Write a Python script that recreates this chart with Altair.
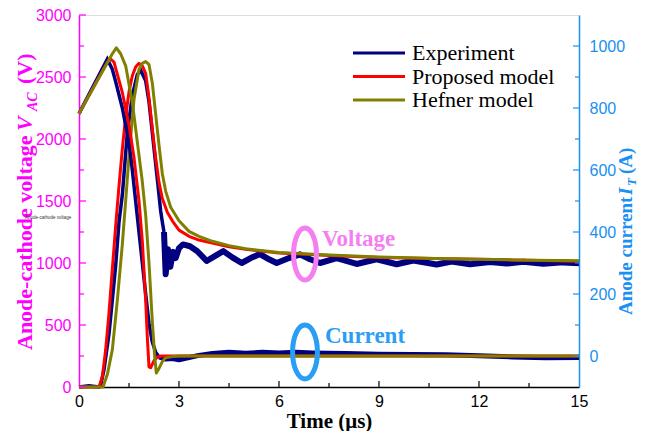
import altair as alt
import pandas as pd

# ---------------- data ----------------
series = ["Experiment", "Proposed model", "Hefner model"]
colors = ["#000080", "#ff0000", "#808000"]

# anode-cathode voltage (V)
exp_v_t1 = [0, 0.3, 0.6, 0.65, 0.75, 0.9, 1.0, 1.1, 1.2, 1.3, 1.45, 1.6, 1.75, 1.85, 2.0, 2.1, 2.2, 2.3, 2.4, 2.45, 2.5, 2.55]
exp_v_v1 = [0, 10, 0, 15, 140, 430, 700, 980, 1330, 1550, 2050, 2350, 2520, 2555, 2470, 2300, 2050, 1800, 1550, 1420, 1330, 1250]
exp_v_t2 = [2.55, 2.6, 2.67, 2.74, 2.82, 2.9, 3.0, 3.12, 3.33, 3.55, 3.83, 4.1, 4.33, 4.6, 4.88, 5.15, 5.43, 5.7, 5.93, 6.3,
            6.63, 6.93, 7.23, 7.73, 8.33, 8.93, 9.53, 10.03, 10.73, 11.18, 11.73, 12.33, 12.83, 13.33, 13.93, 14.53, 15.0]
exp_v_v2 = [1250, 910, 1110, 970, 1090, 1040, 1120, 1150, 1135, 1095, 1016, 1060, 1096, 1045, 1000, 1040, 1072, 1030, 1000, 1040,
            1070, 1030, 1000, 1040, 992, 1030, 990, 1020, 988, 1012, 990, 1008, 995, 1010, 993, 1005, 998]

prop_v_t = [0, 0.6, 0.7, 0.8, 0.9, 1.0, 1.1, 1.2, 1.3, 1.4, 1.5, 1.6, 1.7, 1.8, 1.9, 2.0, 2.1, 2.2, 2.3, 2.4, 2.5, 2.65,
            2.8, 3.0, 3.3, 3.6, 4.0, 4.5, 5.0, 6.0, 7.5, 9.0, 11.0, 13.0, 15.0]
prop_v_v = [0, 0, 80, 300, 600, 950, 1300, 1620, 1920, 2180, 2380, 2510, 2580, 2610, 2590, 2530, 2330, 2080, 1850, 1650, 1520, 1410,
            1340, 1265, 1215, 1185, 1160, 1130, 1110, 1080, 1060, 1045, 1035, 1025, 1015]

hef_v_t = [0, 0.72, 0.85, 1.0, 1.15, 1.3, 1.4, 1.5, 1.65, 1.8, 1.9, 2.0, 2.1, 2.2, 2.3, 2.4, 2.5, 2.6, 2.75, 3.0, 3.3, 3.6,
           4.0, 4.5, 5.0, 6.0, 7.5, 9.0, 11.0, 13.0, 15.0]
hef_v_v = [0, 0, 100, 300, 700, 1150, 1500, 1860, 2320, 2560, 2610, 2625, 2600, 2450, 2200, 1950, 1720, 1580, 1450, 1340, 1255, 1215,
           1175, 1140, 1115, 1085, 1065, 1048, 1035, 1025, 1018]

# anode current (A)
exp_i_t1 = [0, 0.85, 1.0, 1.1, 1.3, 1.5, 1.6, 1.7, 1.8, 1.9, 2.0, 2.1, 2.2, 2.3, 2.4]
exp_i_v1 = [782, 958, 925, 885, 800, 690, 600, 500, 400, 300, 200, 105, 45, 12, -3]
exp_i_t2 = [2.4, 2.6, 2.8, 3.0, 3.3, 3.6, 4.0, 4.5, 5.0, 5.5, 6.0, 6.5, 7.0, 7.5, 8.0, 9.0, 10.0, 11.0, 12.0, 13.0, 14.0, 15.0]
exp_i_v2 = [-3, -10, -8, -12, -5, 2, 8, 12, 9, 12, 10, 12, 10, 9, 8, 6, 5, 4, 1, -3, -6, -5]

prop_i_t = [0, 0.85, 0.95, 1.05, 1.3, 1.5, 1.65, 1.8, 1.9, 2.0, 2.05, 2.1, 2.15, 2.25, 2.35, 2.5, 15]
prop_i_v = [782, 948, 958, 948, 850, 745, 640, 500, 370, 180, 60, -35, -38, -15, -3, 0, 0]

hef_i_t = [0, 1.0, 1.12, 1.25, 1.4, 1.6, 1.75, 1.9, 2.0, 2.1, 2.2, 2.27, 2.32, 2.4, 2.5, 2.6, 2.8, 3.0, 15]
hef_i_v = [782, 975, 994, 975, 936, 818, 690, 562, 455, 300, 110, 0, -55, -40, -18, -6, -2, 0, 0]

x_major = [0, 3, 6, 9, 12, 15]
x_minor = [1.5, 4.5, 7.5, 10.5, 13.5]
v_major = [0, 500, 1000, 1500, 2000, 2500, 3000]
v_minor = [250, 750, 1250, 1750, 2250, 2750]
i_major = [0, 200, 400, 600, 800, 1000]
i_minor = [100, 300, 500, 700, 900]

ann_t = 6.78
ann_v = 1072
ann_i = 13

# ---------------- styling ----------------
W, H = 500, 372
MAG = "#ff00ff"
BLUE = "#1a90f0"
PINK = "#f57ef0"
CBLUE = "#2a9df4"
SERIF = "Liberation Serif"
SANS = "Liberation Sans"

xs = alt.Scale(domain=[0, 15], nice=False, zero=False)
vs = alt.Scale(domain=[0, 3000], nice=False, zero=False)
is_ = alt.Scale(domain=[-100, 1100], nice=False, zero=False)


def df(t, y, col):
    return pd.DataFrame({"t": t, col: y})


def vline(t, v, color, width):
    return alt.Chart(df(t, v, "V")).mark_line(color=color, strokeWidth=width, strokeJoin="round").encode(
        x=alt.X("t:Q", scale=xs), y=alt.Y("V:Q", scale=vs))


def iline(t, v, color, width):
    return alt.Chart(df(t, v, "I")).mark_line(color=color, strokeWidth=width, strokeJoin="round").encode(
        x=alt.X("t:Q", scale=xs), y=alt.Y("I:Q", scale=is_))


def label(text, x, y, **kw):
    return alt.Chart(pd.DataFrame({"s": [text]})).mark_text(**kw).encode(
        x=alt.value(x), y=alt.value(y), text="s:N")


x_axis = alt.Axis(values=x_major, format="d", tickSize=0, labelFont=SANS, labelFontSize=16, labelColor="black",
                  labelPadding=6, domainColor="black", domainWidth=1.5, grid=False,
                  title="Time (μs)", titleFont=SERIF, titleFontSize=21, titleFontWeight="bold",
                  titleColor="black", titlePadding=1, labelFlush=False)
v_axis = alt.Axis(values=v_major, format="d", tickSize=0, labelFont=SANS, labelFontSize=16, labelColor=MAG,
                  labelPadding=8, domainColor=MAG, domainWidth=1.5, grid=False, title=None)
i_axis = alt.Axis(orient="right", values=i_major, format="d", tickSize=0, labelFont=SANS, labelFontSize=16,
                  labelColor=BLUE, labelPadding=10, domainColor=BLUE, domainWidth=1.5, grid=False, title=None)

# voltage layer (left axis)
exp_v1 = alt.Chart(df(exp_v_t1, exp_v_v1, "V")).mark_line(color=colors[0], strokeWidth=3.5).encode(
    x=alt.X("t:Q", scale=xs, axis=x_axis), y=alt.Y("V:Q", scale=vs, axis=v_axis))
exp_v2 = vline(exp_v_t2, exp_v_v2, colors[0], 6)
prop_v = vline(prop_v_t, prop_v_v, colors[1], 3)
hef_v = vline(hef_v_t, hef_v_v, colors[2], 3)

v_tick_major = alt.Chart(pd.DataFrame({"V": v_major})).mark_rule(color=MAG, strokeWidth=1.2).encode(
    y=alt.Y("V:Q", scale=vs), x=alt.value(0), x2=alt.value(7))
v_tick_minor = alt.Chart(pd.DataFrame({"V": v_minor})).mark_rule(color=MAG, strokeWidth=1.2).encode(
    y=alt.Y("V:Q", scale=vs), x=alt.value(0), x2=alt.value(5))
x_tick_major = alt.Chart(pd.DataFrame({"t": x_major[1:-1]})).mark_rule(color="black", strokeWidth=1.2).encode(
    x=alt.X("t:Q", scale=xs), y=alt.value(H), y2=alt.value(H - 6))
x_tick_minor = alt.Chart(pd.DataFrame({"t": x_minor})).mark_rule(color="black", strokeWidth=1.2).encode(
    x=alt.X("t:Q", scale=xs), y=alt.value(H), y2=alt.value(H - 4))

ellipse_v = alt.Chart(pd.DataFrame({"t": [ann_t], "V": [ann_v]})).mark_point(
    shape="M0,-1A0.44,1,0,1,1,0,1A0.44,1,0,1,1,0,-1Z", size=2704, filled=False,
    color=PINK, strokeWidth=5, opacity=1).encode(x=alt.X("t:Q", scale=xs), y=alt.Y("V:Q", scale=vs))
text_v = alt.Chart(pd.DataFrame({"t": [7.29], "V": [1136], "s": ["Voltage"]})).mark_text(
    font=SERIF, fontSize=23, fontWeight="bold", color=PINK, align="left", baseline="alphabetic").encode(
    x=alt.X("t:Q", scale=xs), y=alt.Y("V:Q", scale=vs), text="s:N")

v_layer = alt.layer(exp_v1, exp_v2, prop_v, hef_v, v_tick_major, v_tick_minor,
                    x_tick_major, x_tick_minor, ellipse_v, text_v)

# current layer (right axis)
exp_i1 = alt.Chart(df(exp_i_t1, exp_i_v1, "I")).mark_line(color=colors[0], strokeWidth=3.5).encode(
    x=alt.X("t:Q", scale=xs), y=alt.Y("I:Q", scale=is_, axis=i_axis))
exp_i2 = iline(exp_i_t2, exp_i_v2, colors[0], 5)
prop_i = iline(prop_i_t, prop_i_v, colors[1], 3)
hef_i = iline(hef_i_t, hef_i_v, colors[2], 3)

i_tick_major = alt.Chart(pd.DataFrame({"I": i_major})).mark_rule(color=BLUE, strokeWidth=1.2).encode(
    y=alt.Y("I:Q", scale=is_), x=alt.value(W), x2=alt.value(W - 6))
i_tick_minor = alt.Chart(pd.DataFrame({"I": i_minor})).mark_rule(color=BLUE, strokeWidth=1.2).encode(
    y=alt.Y("I:Q", scale=is_), x=alt.value(W), x2=alt.value(W - 4))

ellipse_i = alt.Chart(pd.DataFrame({"t": [ann_t], "I": [ann_i]})).mark_point(
    shape="M0,-1A0.46,1,0,1,1,0,1A0.46,1,0,1,1,0,-1Z", size=2916, filled=False,
    color=CBLUE, strokeWidth=5, opacity=1).encode(x=alt.X("t:Q", scale=xs), y=alt.Y("I:Q", scale=is_))
text_i = alt.Chart(pd.DataFrame({"t": [7.38], "I": [42], "s": ["Current"]})).mark_text(
    font=SERIF, fontSize=23, fontWeight="bold", color=CBLUE, align="left", baseline="alphabetic").encode(
    x=alt.X("t:Q", scale=xs), y=alt.Y("I:Q", scale=is_), text="s:N")

i_layer = alt.layer(exp_i1, exp_i2, prop_i, hef_i, i_tick_major, i_tick_minor, ellipse_i, text_i)

# legend (rows placed by a point scale: step 27.5 px)
leg_df = pd.DataFrame({"series": series})
leg_y = alt.Y("series:N", scale=alt.Scale(domain=series, range=[20.25, 102.75], padding=0.5), axis=None)
leg_color = alt.Color("series:N", scale=alt.Scale(domain=series, range=colors), legend=None)
leg_rule = alt.Chart(leg_df).mark_rule(strokeWidth=3).encode(
    y=leg_y, x=alt.value(274), x2=alt.value(326), color=leg_color)
leg_text = alt.Chart(leg_df).mark_text(font=SERIF, fontSize=22, color="black", align="left",
                                       baseline="middle").encode(y=leg_y, x=alt.value(333), text="series:N")
leg_layer = alt.layer(leg_rule, leg_text)

# axis titles built from pieces (italic symbol + subscript)
lt = dict(font=SERIF, fontWeight="bold", color=MAG, angle=270, align="left", baseline="alphabetic")
left_title = alt.layer(
    label("Anode-cathode voltage", -47, 335, fontSize=22, **lt),
    label("V", -47, 116, fontSize=22, fontStyle="italic", **lt),
    label("AC", -42, 96, fontSize=14, fontStyle="italic", **lt),
    label("(V)", -47, 69, fontSize=22, **lt),
)
rt = dict(font=SERIF, fontWeight="bold", color=BLUE, angle=270, align="left", baseline="alphabetic")
right_title = alt.layer(
    label("Anode current", 553, 300, fontSize=19, **rt),
    label("I", 553, 180, fontSize=19, fontStyle="italic", **rt),
    label("T", 557, 171, fontSize=13, fontStyle="italic", **rt),
    label("(A)", 553, 159, fontSize=19, **rt),
)
stray = label("Anode-cathode voltage", -54, 203, fontSize=4.5, font=SANS, color="#333333",
              align="left", baseline="middle")

chart = alt.layer(v_layer, i_layer, leg_layer, left_title, right_title, stray).resolve_scale(
    y="independent"
).properties(
    width=W, height=H,
    padding={"left": 71, "top": 7, "right": 59, "bottom": 44},
    autosize=alt.AutoSizeParams(type="none"),
).configure_view(stroke="black", strokeWidth=1.2).configure(background="white")

chart.save("out.html", embed_options={"renderer": "svg", "actions": False})
